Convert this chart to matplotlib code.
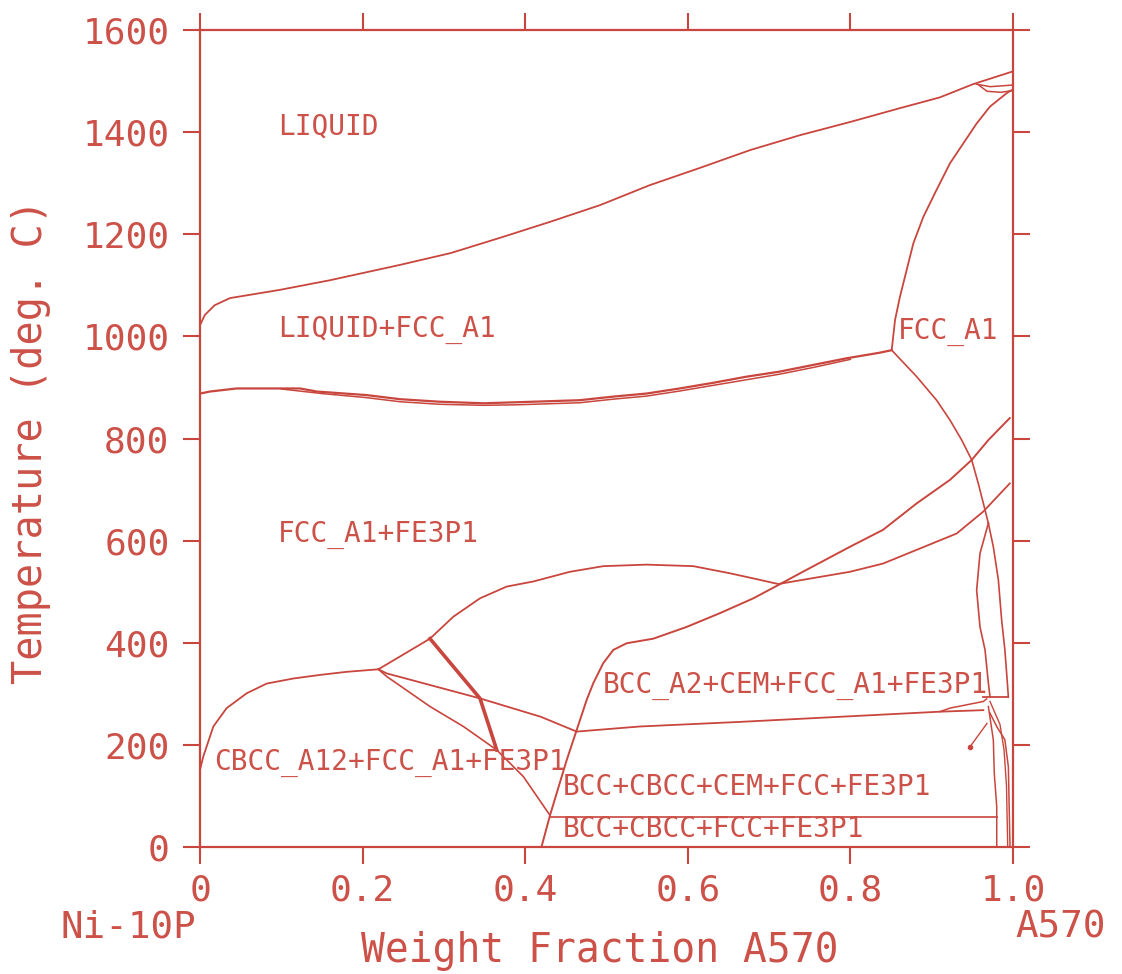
import matplotlib.pyplot as plt

RED = "#c8463d"
TXT = "#cc5148"

# ---- phase boundaries (weight fraction A570, temperature in deg C) ----
liq_x = [0.0, 0.006, 0.018, 0.037, 0.098, 0.16, 0.246, 0.308, 0.369, 0.43, 0.492,
         0.553, 0.615, 0.677, 0.738, 0.80, 0.861, 0.91, 0.951, 0.998]
liq_t = [1022, 1042, 1061, 1075, 1091, 1110, 1140, 1163, 1193, 1224, 1257,
         1296, 1330, 1365, 1394, 1420, 1447, 1468, 1494, 1518]

lens1_x = [0.955, 0.972, 0.998]
lens1_t = [1494, 1489, 1492]
lens2_x = [0.958, 0.968, 0.985, 0.998]
lens2_t = [1492, 1480, 1478, 1481]

fcc_sol_x = [0.998, 0.992, 0.9717, 0.9553, 0.9389, 0.9225, 0.906, 0.8897, 0.8774,
             0.8692, 0.861, 0.8549, 0.8508]
fcc_sol_t = [1482, 1476, 1450, 1417, 1378, 1339, 1287, 1234, 1182,
             1130, 1078, 1032, 973]

sol_x = [0.0, 0.0123, 0.0451, 0.123, 0.1435, 0.205, 0.246, 0.295, 0.3485, 0.3895,
         0.467, 0.508, 0.549, 0.590, 0.631, 0.672, 0.713, 0.754, 0.795, 0.836, 0.8508]
sol_t = [888, 892, 898, 898, 892, 885, 877, 872, 869, 871,
         875, 882, 888, 898, 909, 921, 931, 944, 957, 968, 973]
sol2_x = [0.10, 0.15, 0.205, 0.246, 0.295, 0.3485, 0.3895, 0.467, 0.508, 0.549,
          0.590, 0.631, 0.672, 0.713, 0.754, 0.80]
sol2_t = [897, 888, 880, 872, 867, 865, 866, 870, 877, 883,
          893, 904, 915, 926, 939, 955]

fcc_low_x = [0.8508, 0.8816, 0.906, 0.9225, 0.9369, 0.9492, 0.9573, 0.9656, 0.9697]
fcc_low_t = [973, 921, 875, 836, 797, 758, 712, 660, 634]

bcc_x = [0.42, 0.4305, 0.451, 0.4633, 0.4756, 0.4838, 0.496, 0.5084, 0.5248, 0.5576,
         0.5986, 0.6396, 0.6806, 0.7113, 0.738, 0.7995, 0.840, 0.8816, 0.9225,
         0.9492, 0.9697, 0.996]
bcc_t = [0, 62, 170, 229, 288, 321, 360, 386, 399, 408,
         431, 458, 487, 513, 536, 588, 621, 673, 719,
         758, 797, 840]

dome_x = [0.2829, 0.3116, 0.3444, 0.3772, 0.41, 0.4551, 0.4961, 0.5494, 0.6068,
          0.6519, 0.6806, 0.7113, 0.7995, 0.840, 0.8816, 0.9308, 0.9635, 0.996]
dome_t = [408, 451, 487, 510, 520, 539, 550, 553, 550,
          536, 526, 515, 539, 555, 582, 614, 657, 712]

cbcc_x = [0.0, 0.0, 0.004, 0.0164, 0.0328, 0.0574, 0.082, 0.1148, 0.1476, 0.18, 0.2194]
cbcc_t = [125, 151, 177, 236, 272, 301, 320, 330, 337, 343, 348]

j1j2_x = [0.2194, 0.2829]
j1j2_t = [348, 408]

upper_x = [0.2194, 0.2296, 0.3444, 0.4192, 0.4633, 0.541, 0.664, 0.787, 0.910, 0.9635]
upper_t = [348, 340, 291, 255, 226, 236, 245, 255, 265, 268]
upper2_x = [0.910, 0.9225, 0.9635, 0.9676]
upper2_t = [265, 272, 285, 290]

lower_x = [0.2194, 0.2296, 0.283, 0.324, 0.365, 0.3977, 0.4305]
lower_t = [348, 334, 275, 236, 190, 138, 62]

thick_x = [0.2829, 0.3444, 0.365]
thick_t = [408, 291, 190]

h59_x = [0.4305, 0.98]
h59_t = [59, 59]

h294_x = [0.9635, 0.9943]
h294_t = [294, 294]

# two branches below the FCC_A1 corner, right-hand edge
rl_x = [0.9697, 0.9594, 0.9553, 0.9594, 0.9656, 0.9697, 0.9717]
rl_t = [634, 575, 503, 431, 386, 321, 294]
rr_x = [0.9697, 0.9758, 0.982, 0.986, 0.990, 0.9922, 0.9943]
rr_t = [634, 588, 523, 445, 386, 340, 294]

low_a_x = [0.9697, 0.9758, 0.977, 0.98, 0.98]
low_a_t = [275, 210, 144, 79, 0]
low_b_x = [0.9717, 0.98, 0.99, 0.9943, 0.9963]
low_b_t = [262, 236, 210, 157, 0]
low_c_x = [0.9717, 0.9840, 0.9890, 0.9920, 0.9935]
low_c_t = [285, 240, 190, 120, 0]
tail_x = [0.947, 0.968]
tail_t = [196, 242]

curves = [
    (liq_x, liq_t, 1.3), (lens1_x, lens1_t, 1.1), (lens2_x, lens2_t, 1.1),
    (fcc_sol_x, fcc_sol_t, 1.3), (sol_x, sol_t, 1.6), (sol2_x, sol2_t, 1.1),
    (fcc_low_x, fcc_low_t, 1.2), (bcc_x, bcc_t, 1.4), (dome_x, dome_t, 1.3),
    (cbcc_x, cbcc_t, 1.3), (j1j2_x, j1j2_t, 1.3), (upper_x, upper_t, 1.3),
    (upper2_x, upper2_t, 1.1), (lower_x, lower_t, 1.2), (thick_x, thick_t, 2.6),
    (h59_x, h59_t, 1.2), (h294_x, h294_t, 1.3), (rl_x, rl_t, 1.2),
    (rr_x, rr_t, 1.2), (low_a_x, low_a_t, 1.1), (low_b_x, low_b_t, 1.1),
    (low_c_x, low_c_t, 1.0), (tail_x, tail_t, 1.0),
]

region_labels = [
    ("LIQUID", 0.096, 1410),
    ("LIQUID+FCC_A1", 0.096, 1012),
    ("FCC_A1", 0.8585, 1008),
    ("FCC_A1+FE3P1", 0.096, 611),
    ("BCC_A2+CEM+FCC_A1+FE3P1", 0.4957, 315),
    ("CBCC_A12+FCC_A1+FE3P1", 0.0172, 164),
    ("BCC+CBCC+CEM+FCC+FE3P1", 0.4465, 117),
    ("BCC+CBCC+FCC+FE3P1", 0.4465, 35),
]

x_ticks = [0, 0.2, 0.4, 0.6, 0.8, 1.0]
x_ticklabels = ["0", "0.2", "0.4", "0.6", "0.8", "1.0"]
y_ticks = [0, 200, 400, 600, 800, 1000, 1200, 1400, 1600]

plt.rcParams["font.family"] = ["DejaVu Sans Mono"]

W, H = 1122, 974
fig = plt.figure(figsize=(W / 100, H / 100), dpi=100)
ax = fig.add_axes([200 / W, 1 - 847 / H, 813 / W, 817 / H])

for xs, ts, lw in curves:
    ax.plot(xs, ts, color=RED, lw=lw, solid_joinstyle="miter")
ax.plot(tail_x[:1], tail_t[:1], "o", color=RED, ms=3)

for txt, x, t in region_labels:
    ax.text(x, t, txt, color=TXT, fontsize=20, ha="left", va="center")

ax.set_xlim(0, 1.0)
ax.set_ylim(0, 1600)
ax.set_xticks(x_ticks)
ax.set_xticklabels(x_ticklabels)
ax.set_yticks(y_ticks)
ax.tick_params(direction="out", length=12, width=1.5, color=RED, labelcolor=TXT,
               labelsize=26, top=True, right=True)
ax.tick_params(axis="x", pad=7)
ax.tick_params(axis="y", pad=10)
for sp in ax.spines.values():
    sp.set_color(RED)
    sp.set_linewidth(1.6)

# axis titles and end-member names placed in figure pixels
fig.text(600 / W, 1 - 962 / H, "Weight Fraction A570", fontsize=28.5, color=TXT,
         ha="center", va="baseline")
fig.text(31 / W, 1 - 442 / H, "Temperature (deg. C)", fontsize=29, color=TXT,
         ha="center", va="center", rotation=90)
fig.text(128 / W, 1 - 938 / H, "Ni-10P", fontsize=27, color=TXT,
         ha="center", va="baseline")
fig.text(1061 / W, 1 - 938 / H, "A570", fontsize=27, color=TXT,
         ha="center", va="baseline")

fig.savefig("out.png", dpi=100, facecolor="white")
